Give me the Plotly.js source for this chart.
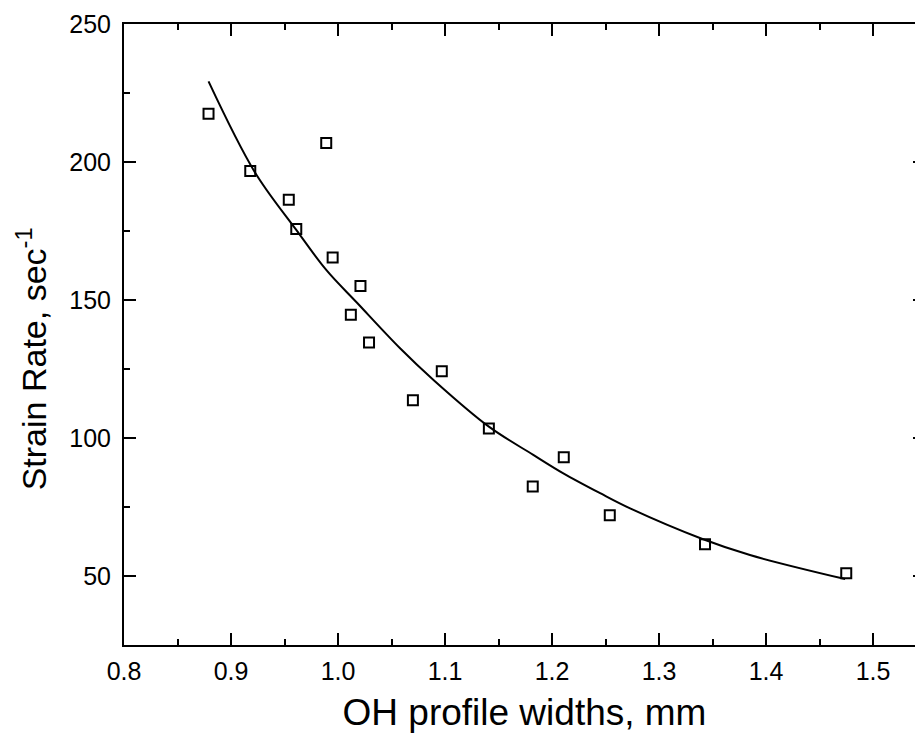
<!DOCTYPE html>
<html>
<head>
<meta charset="utf-8">
<script src="https://cdn.plot.ly/plotly-3.0.1.min.js"></script>
<style>
  html, body { margin: 0; padding: 0; overflow: hidden; background: #fff; }
  #chart { width: 935px; height: 733px; }
</style>
</head>
<body>
<div id="chart"></div>
<script>
// Measured data points (open squares)
const widthMm = [0.879, 0.918, 0.954, 0.961, 0.989, 0.995, 1.021, 1.012, 1.029,
                 1.097, 1.070, 1.141, 1.211, 1.182, 1.254, 1.343, 1.475];
const strainRate = [217.5, 196.7, 186.3, 175.7, 206.9, 165.4, 155.1, 144.7, 134.6,
                    124.2, 113.7, 103.4, 93.0, 82.4, 72.0, 61.5, 51.0];

// Fitted curve
const fitX = [0.879, 0.922, 0.961, 0.989, 1.018, 1.058, 1.089, 1.141,
              1.1825, 1.2106, 1.245, 1.273, 1.340, 1.385, 1.474];
const fitY = [229.2, 196.5, 175.4, 160.9, 148.9, 132.5, 121.1, 104.1,
              93.9, 87.2, 80.0, 74.5, 63.5, 57.6, 48.9];

const xTitle = 'OH profile widths, mm';
const yTitle = 'Strain Rate, sec<sup>-1</sup>';

const FONT = 'Liberation Sans, Arial, sans-serif';

const traces = [
  {
    x: fitX, y: fitY, type: 'scatter', mode: 'lines',
    line: { color: '#000', width: 2, shape: 'spline', smoothing: 1 },
    hoverinfo: 'skip', showlegend: false
  },
  {
    x: widthMm, y: strainRate, type: 'scatter', mode: 'markers',
    marker: { symbol: 'square-open', size: 10, color: '#000', line: { width: 2, color: '#000' } },
    showlegend: false
  }
];

const axisCommon = {
  showgrid: false, zeroline: false,
  showline: true, linecolor: '#000', linewidth: 2, mirror: 'ticks',
  ticks: 'inside', ticklen: 12, tickwidth: 2, tickcolor: '#000',
  tickfont: { family: FONT, size: 25, color: '#000' }
};

const layout = {
  width: 935, height: 733,
  margin: { l: 124, r: 10, t: 24, b: 88 },
  paper_bgcolor: '#fff', plot_bgcolor: '#fff',
  font: { family: FONT, color: '#000' },
  xaxis: Object.assign({}, axisCommon, {
    range: [0.8, 1.5486], tick0: 0.8, dtick: 0.1, tickformat: '.1f',
    ticklabelstandoff: 3,
    minor: { dtick: 0.05, ticks: 'inside', ticklen: 6, tickwidth: 2, tickcolor: '#000', showgrid: false },
    title: { text: xTitle, font: { family: FONT, size: 37, color: '#000' }, standoff: 18 }
  }),
  yaxis: Object.assign({}, axisCommon, {
    range: [25, 250], tick0: 0, dtick: 50,
    ticklabelstandoff: 6,
    minor: { dtick: 25, ticks: 'inside', ticklen: 6, tickwidth: 2, tickcolor: '#000', showgrid: false }
  }),
  annotations: [{
    text: yTitle, textangle: -90, showarrow: false,
    xref: 'paper', yref: 'paper', x: -0.1161, y: 0.46,
    xanchor: 'center', yanchor: 'middle',
    font: { family: FONT, size: 34, color: '#000' }
  }]
};

Plotly.newPlot('chart', traces, layout, { displayModeBar: false, staticPlot: true });
</script>
</body>
</html>
